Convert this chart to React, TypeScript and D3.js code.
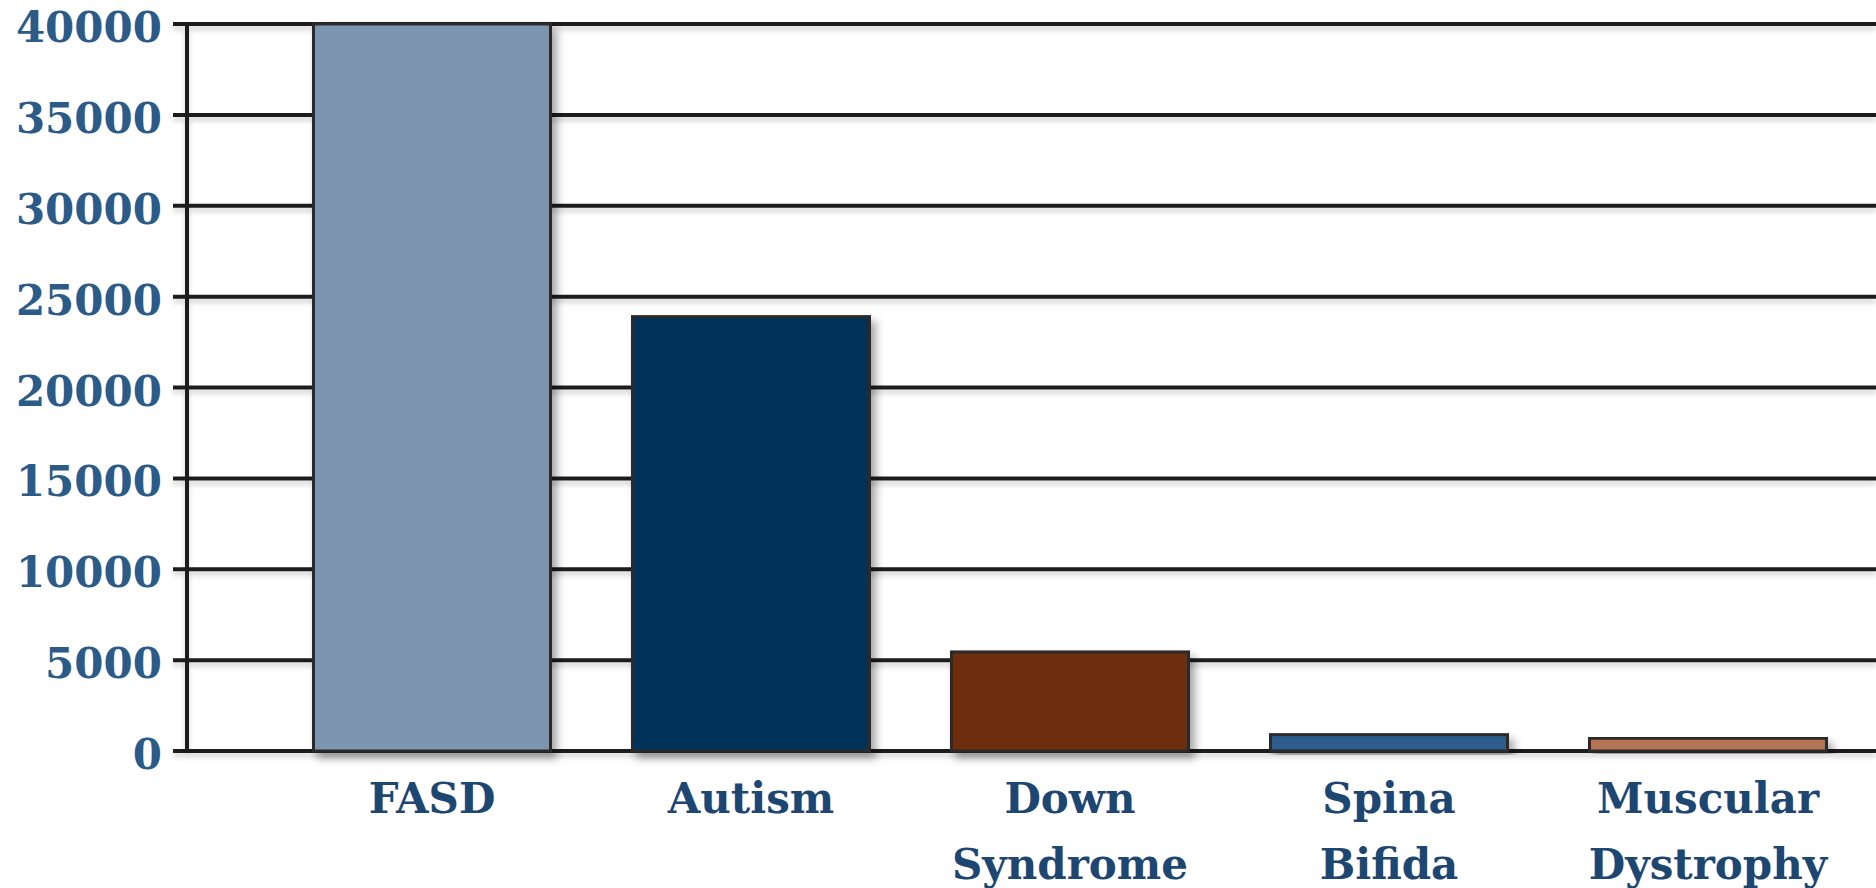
import React from "react";
import * as d3 from "d3";

const categories = ["FASD", "Autism", "Down Syndrome", "Spina Bifida", "Muscular Dystrophy"];
const values = [40000, 23900, 5450, 900, 700];
const barColors = ["#7e95b1", "#03305a", "#6e2e09", "#2e5d8d", "#b57555"];
const yTicks = [0, 5000, 10000, 15000, 20000, 25000, 30000, 35000, 40000];

const W = 1876;
const H = 888;

export default function App() {
  const y = d3.scaleLinear().domain([0, 40000]).range([751, 24]);
  const x = d3
    .scaleBand<string>()
    .domain(categories)
    .range([272.5, 1867.5])
    .paddingInner(0.257)
    .paddingOuter(0.1285);
  const axisX = 187;
  const font = "'DejaVu Serif', serif";

  return (
    <svg
      width={W}
      height={H}
      style={{ position: "absolute", left: 0, top: 0, background: "#fff" }}
    >
      <defs>
        <filter id="shadow" x="-10%" y="-10%" width="130%" height="130%">
          <feDropShadow dx="5" dy="6" stdDeviation="4" floodColor="#000" floodOpacity="0.35" />
        </filter>
        <filter id="lineShadow" x="-1%" y="-200%" width="102%" height="600%">
          <feDropShadow dx="0" dy="4" stdDeviation="2.5" floodColor="#000" floodOpacity="0.18" />
        </filter>
      </defs>
      <rect width={W} height={H} fill="#fff" />
      {/* gridlines */}
      <g filter="url(#lineShadow)">
        {yTicks.map((t) => (
          <line
            key={t}
            x1={axisX - 14}
            x2={W}
            y1={y(t)}
            y2={y(t)}
            stroke="#1e1e1e"
            strokeWidth={4}
          />
        ))}
        <line x1={axisX} x2={axisX} y1={y(40000) - 2} y2={y(0) + 2} stroke="#1e1e1e" strokeWidth={4} />
      </g>
      {/* y tick labels */}
      {yTicks.map((t) => (
        <text
          key={"l" + t}
          x={axisX - 25}
          y={y(t) + 7}
          textAnchor="end"
          dominantBaseline="middle"
          fontFamily={font}
          fontWeight="bold"
          fontSize={42}
          fill="#2b5b86"
        >
          {t}
        </text>
      ))}
      {/* bars */}
      {categories.map((c, i) => (
        <rect
          key={c}
          x={x(c)}
          y={y(values[i])}
          width={x.bandwidth()}
          height={y(0) - y(values[i])}
          fill={barColors[i]}
          stroke="#2a2a2a"
          strokeWidth={3}
          filter="url(#shadow)"
        />
      ))}
      {/* category labels */}
      {categories.map((c) => {
        const lines = c.split(" ");
        const cx = (x(c) as number) + x.bandwidth() / 2;
        return (
          <text
            key={"c" + c}
            textAnchor="middle"
            fontFamily={font}
            fontWeight="bold"
            fontSize={42}
            fill="#1d4670"
          >
            {lines.map((ln, j) => (
              <tspan key={j} x={cx} y={813 + j * 66}>
                {ln}
              </tspan>
            ))}
          </text>
        );
      })}
    </svg>
  );
}
